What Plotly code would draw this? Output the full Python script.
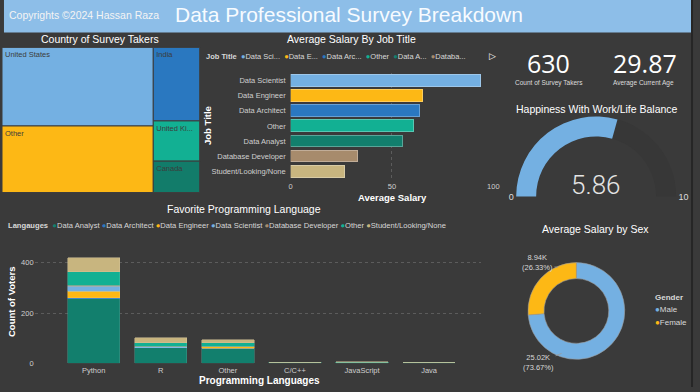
import plotly.graph_objects as go

W, H = 700, 392

# ---------------- data ----------------
countries = ["United States", "Other", "India", "United Ki...", "Canada"]
country_counts = [261, 221, 75, 41, 32]
country_block = ["left", "left", "right", "right", "right"]
country_colors = ["#74B0E2", "#FDB815", "#2A78C0", "#12B093", "#127C6A"]

job_titles = ["Data Scientist", "Data Engineer", "Data Architect", "Other",
              "Data Analyst", "Database Developer", "Student/Looking/None"]
job_legend_names = ["Data Sci...", "Data E...", "Data Arc...", "Other", "Data A...", "Databa..."]
avg_salary = [93.7, 65.2, 63.5, 60.7, 55.3, 33.0, 26.7]
job_colors = {
    "Data Analyst": "#127F6D",
    "Data Architect": "#2A78C0",
    "Data Engineer": "#FDB815",
    "Data Scientist": "#74B0E2",
    "Database Developer": "#A78B6C",
    "Other": "#12B093",
    "Student/Looking/None": "#C8B57F",
}

languages = ["Python", "R", "Other", "C/C++", "JavaScript", "Java"]
stack_roles = ["Data Analyst", "Data Architect", "Data Engineer", "Data Scientist",
               "Database Developer", "Other", "Student/Looking/None"]
votes_data_analyst = [256, 61, 58, 4, 2, 2]
votes_data_architect = [4, 0, 1, 0, 0, 0]
votes_data_engineer = [27, 1, 6, 0, 1, 0]
votes_data_scientist = [20, 4, 1, 0, 0, 0]
votes_database_developer = [3, 2, 1, 0, 0, 0]
votes_other = [55, 13, 15, 1, 1, 1]
votes_student = [56, 20, 12, 0, 2, 0]
votes_by_role = [votes_data_analyst, votes_data_architect, votes_data_engineer,
                 votes_data_scientist, votes_database_developer, votes_other, votes_student]

survey_count = 630
avg_age = 29.87
happiness = 5.86
happiness_range = [0, 10]
genders = ["Male", "Female"]
gender_salary = [25020, 8940]
gender_colors = ["#74B0E2", "#FDB815"]

FONT = "Liberation Sans"
BG = "#3a3a3a"


def px(x):
    return x / W


def py(y):
    return 1 - y / H


fig = go.Figure()

# ---------------- treemap ----------------
blocks = ["left", "right"]
block_vals = [sum(v for v, b in zip(country_counts, country_block) if b == blk) for blk in blocks]
fig.add_trace(go.Treemap(
    ids=blocks + countries,
    labels=["", ""] + countries,
    parents=["", ""] + country_block,
    values=block_vals + country_counts,
    branchvalues="total",
    sort=True,
    tiling=dict(packing="slice-dice", pad=0),
    marker=dict(colors=[BG, BG] + country_colors, line=dict(width=1, color="#3d3d3d"),
                pad=dict(t=0, l=0, r=0, b=0)),
    textinfo="label",
    textposition="top left",
    textfont=dict(size=7.5, color="#3c3c3c", family=FONT),
    pathbar=dict(visible=False),
    domain=dict(x=[0, px(200)], y=[py(195), py(48)]),
    hoverinfo="skip",
))

# ---------------- salary by job title ----------------
def lighten(hexc, f=0.3):
    hexc = hexc.lstrip("#")
    r, g, b = (int(hexc[i:i + 2], 16) for i in (0, 2, 4))
    r, g, b = (int(c + (255 - c) * f) for c in (r, g, b))
    return f"rgb({r},{g},{b})"


fig.add_trace(go.Bar(
    x=avg_salary, y=job_titles, orientation="h",
    marker=dict(color=[job_colors[j] for j in job_titles],
                line=dict(width=1, color=[lighten(job_colors[j]) for j in job_titles])),
    xaxis="x", yaxis="y", showlegend=False, hoverinfo="skip",
))

# ---------------- favourite programming language ----------------
for role, vals in zip(stack_roles, votes_by_role):
    fig.add_trace(go.Bar(
        x=languages, y=vals, name=role,
        marker=dict(color=job_colors[role], line=dict(width=0.5, color=lighten(job_colors[role], 0.2))),
        xaxis="x2", yaxis="y2", showlegend=False, hoverinfo="skip",
    ))

# ---------------- gauge ----------------
fig.add_trace(go.Indicator(
    mode="gauge",
    value=happiness,
    gauge=dict(
        shape="angular",
        axis=dict(range=happiness_range, tickvals=happiness_range, ticks="",
                  tickfont=dict(size=9, color="#dddddd", family=FONT)),
        bar=dict(color="#74B0E2", thickness=1, line=dict(width=0)),
        bgcolor="#373737",
        borderwidth=0,
    ),
    domain=dict(x=[px(520), px(682)], y=[py(199), py(118)]),
))

# ---------------- donut ----------------
fig.add_trace(go.Pie(
    labels=genders, values=gender_salary,
    hole=0.67, sort=False, direction="clockwise", rotation=0,
    marker=dict(colors=gender_colors, line=dict(width=0.6, color="#9a9a9a")),
    textinfo="none", showlegend=False, hoverinfo="skip",
    domain=dict(x=[px(532), px(630)], y=[py(364), py(266)]),
))

# ---------------- layout / axes ----------------
fig.update_layout(
    width=W, height=H, margin=dict(l=0, r=0, t=0, b=0),
    paper_bgcolor=BG, plot_bgcolor="rgba(0,0,0,0)",
    font=dict(family=FONT, color="#dddddd"),
    showlegend=False, barmode="stack", bargap=0.22,
    xaxis=dict(domain=[px(292), px(497)], range=[0, 100], tickvals=[0, 50, 100],
               showgrid=True, gridcolor="#5c5c5c", griddash="dot", zeroline=False,
               tickfont=dict(size=7.5, color="#cfcfcf"), ticklabelstandoff=2, anchor="y"),
    yaxis=dict(domain=[py(181), py(74)], autorange="reversed", showgrid=False,
               tickfont=dict(size=7.5, color="#cfcfcf"), ticklabelstandoff=4, anchor="x"),
    xaxis2=dict(domain=[px(33), px(485)], range=[-0.88, 5.78], type="category",
                showgrid=False, tickfont=dict(size=7.5, color="#cfcfcf"),
                ticklabelstandoff=1, anchor="y2"),
    yaxis2=dict(domain=[py(368), py(256)], range=[0, 440], tickvals=[0, 200, 400],
                showgrid=True, gridcolor="#5c5c5c", griddash="dot", zeroline=False,
                tickfont=dict(size=7.5, color="#cfcfcf"), anchor="x2"),
)

shapes = [
    dict(type="rect", xref="paper", yref="paper", x0=px(2), x1=px(697), y0=py(33), y1=py(0),
         fillcolor="#8DBEE8", line=dict(width=0), layer="below"),
    dict(type="rect", xref="paper", yref="paper", x0=px(697), x1=px(699), y0=0, y1=1,
         fillcolor="#262626", line=dict(width=0)),
]
fig.update_layout(shapes=shapes)

ann = []


def text(x, y, s, size, color="#ffffff", xanchor="center", family=FONT, **kw):
    ann.append(dict(x=px(x), y=py(y), xref="paper", yref="paper", text=s, showarrow=False,
                    xanchor=xanchor, yanchor="middle", font=dict(size=size, color=color, family=family), **kw))


# header
text(5, 15, "Copyrights ©2024 Hassan Raza", 10.5, "#f4f4f4", xanchor="left")
text(351, 15, "Data Professional Survey Breakdown", 21, "#f7fbff")

# titles
text(99, 40, "Country of Survey Takers", 10.5)
text(354, 40, "Average Salary By Job Title", 10.5)
text(602, 110, "Happiness With Work/Life Balance", 10.5)
text(600, 232, "Average Salary by Sex", 10.5)
text(245, 212, "Favorite Programming Language", 10.5)

# axis titles
text(208, 127, "<b>Job Title</b>", 9.5, textangle=-90)
text(395, 200, "<b>Average Salary</b>", 9.5)
text(9, 305, "<b>Count of Voters</b>", 9.5, textangle=-90)
text(260, 385.5, "<b>Programming Languages</b>", 10)

# legends
sp = "\u00a0"
job_leg = f"<b>Job Title</b>{sp}{sp}" + f"{sp}{sp}".join(
    f"<span style='color:{job_colors[j]}'>●</span>{n}" for j, n in zip(job_titles, job_legend_names))
text(204, 57, job_leg, 7.5, "#d8d8d8", xanchor="left")
text(496, 57, "▷", 9, "#ffffff")

lang_leg = f"<b>Langauges</b>{sp}{sp}" + f"{sp}".join(
    f"<span style='color:{job_colors[r]}'>●</span>{r}" for r in stack_roles)
text(4, 228, lang_leg, 7.6, "#d8d8d8", xanchor="left")

text(659, 301, "<b>Gender</b>", 8, "#d8d8d8", xanchor="left")
for i, (g, c) in enumerate(zip(genders, gender_colors)):
    text(659, 313 + 14 * i, f"<span style='color:{c}'>●</span>{g}", 8, "#d8d8d8", xanchor="left")

# KPIs
text(553, 64, f"{survey_count}", 25, "#ffffff", family="Open Sans")
text(553, 84, "Count of Survey Takers", 6.5, "#dddddd")
text(650, 64, f"{avg_age:.2f}", 25, "#ffffff", family="Open Sans")
text(649, 84, "Average Current Age", 6.5, "#dddddd")

# gauge value
ann.append(dict(x=px(601), y=py(187), xref="paper", yref="paper", text=f"{happiness:.2f}",
                showarrow=False, xanchor="center", yanchor="middle",
                font=dict(size=26, color="#e4e4e4", family="Roboto", weight=300)))

# donut labels
tot = sum(gender_salary)
lab = {g: f"{v / 1000:.2f}K<br>({v / tot * 100:.2f}%)" for g, v in zip(genders, gender_salary)}
ann.append(dict(x=px(562), y=py(271), xref="paper", yref="paper", text=lab["Female"],
                showarrow=True, arrowhead=0, arrowwidth=0.8, arrowcolor="#9a9a9a",
                ax=-20, ay=-5, font=dict(size=7.5, color="#d8d8d8", family=FONT)))
ann.append(dict(x=px(566), y=py(358), xref="paper", yref="paper", text=lab["Male"],
                showarrow=True, arrowhead=0, arrowwidth=0.8, arrowcolor="#9a9a9a",
                ax=-23, ay=9, font=dict(size=7.5, color="#d8d8d8", family=FONT)))

fig.update_layout(annotations=ann)

fig.write_html("out.html", config=dict(displayModeBar=False),
               post_script="document.body.style.margin='0';document.body.style.overflow='hidden';")
